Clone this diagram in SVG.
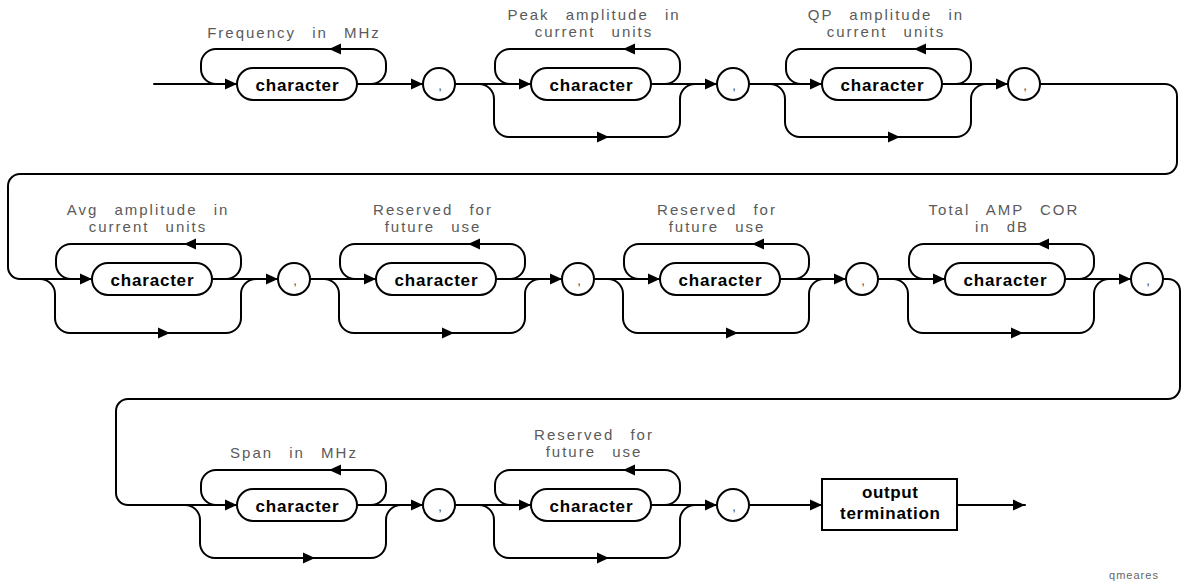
<svg xmlns="http://www.w3.org/2000/svg" xmlns:xlink="http://www.w3.org/1999/xlink" width="1183" height="588" viewBox="0 0 1183 588">
<style>
.ln{fill:none;stroke:#000;stroke-width:2;stroke-linecap:round;stroke-linejoin:round}
.pill{fill:#fff;stroke:#000;stroke-width:2}
.chr{font-family:"Liberation Sans",Arial,sans-serif;font-weight:bold;font-size:17px;fill:#000;text-anchor:middle}
.lbl{font-family:"Liberation Sans",Arial,sans-serif;font-size:15px;fill:#5a5a5a;text-anchor:middle;letter-spacing:2px;word-spacing:10px}
.cm{font-family:"Liberation Sans",Arial,sans-serif;font-size:13px;fill:#444;text-anchor:middle}
.ah{fill:#000}
</style>
<defs>
<path id="ar" class="ah" d="M0,0 L-12,-5.5 L-12,5.5 Z"/>
<path id="al" class="ah" d="M0,0 L12,-5.5 L12,5.5 Z"/>
</defs>
<rect width="1183" height="588" fill="#fff"/>

<g id="connectors">
<!-- row 1 -->
<path class="ln" d="M154,84 H237"/>
<use href="#ar" x="237" y="84"/>
<path class="ln" d="M371,84 A15,15 0 0 0 386,69 V64 A15,15 0 0 0 371,49 H216 A15,15 0 0 0 201,64 V69 A15,15 0 0 0 216,84"/>
<use href="#al" x="329" y="49"/>
<path class="ln" d="M357,84 H423"/>
<use href="#ar" x="423" y="84"/>

<path class="ln" d="M455,84 H531"/>
<use href="#ar" x="531" y="84"/>
<path class="ln" d="M665,84 A15,15 0 0 0 680,69 V64 A15,15 0 0 0 665,49 H510 A15,15 0 0 0 495,64 V69 A15,15 0 0 0 510,84"/>
<use href="#al" x="623" y="49"/>
<path class="ln" d="M479,84 A15,15 0 0 1 494,99 V122 A15,15 0 0 0 509,137 H665 A15,15 0 0 0 680,122 V99 A15,15 0 0 1 695,84"/>
<use href="#ar" x="609" y="137"/>
<path class="ln" d="M651,84 H717"/>
<use href="#ar" x="717" y="84"/>

<path class="ln" d="M749,84 H822"/>
<use href="#ar" x="822" y="84"/>
<path class="ln" d="M956,84 A15,15 0 0 0 971,69 V64 A15,15 0 0 0 956,49 H801 A15,15 0 0 0 786,64 V69 A15,15 0 0 0 801,84"/>
<use href="#al" x="914" y="49"/>
<path class="ln" d="M770,84 A15,15 0 0 1 785,99 V122 A15,15 0 0 0 800,137 H956 A15,15 0 0 0 971,122 V99 A15,15 0 0 1 986,84"/>
<use href="#ar" x="900" y="137"/>
<path class="ln" d="M942,84 H1008"/>
<use href="#ar" x="1008" y="84"/>

<!-- transition 1 -->
<path class="ln" d="M1040,84 H1165 A12,12 0 0 1 1177,96 V162 A12,12 0 0 1 1165,174 H20 A12,12 0 0 0 8,186 V267 A12,12 0 0 0 20,279 H92"/>
<use href="#ar" x="92" y="279"/>

<!-- row 2 -->
<path class="ln" d="M226,279 A15,15 0 0 0 241,264 V259 A15,15 0 0 0 226,244 H71 A15,15 0 0 0 56,259 V264 A15,15 0 0 0 71,279"/>
<use href="#al" x="184" y="244"/>
<path class="ln" d="M40,279 A15,15 0 0 1 55,294 V318 A15,15 0 0 0 70,333 H226 A15,15 0 0 0 241,318 V294 A15,15 0 0 1 256,279"/>
<use href="#ar" x="170" y="333"/>
<path class="ln" d="M212,279 H278"/>
<use href="#ar" x="278" y="279"/>

<path class="ln" d="M310,279 H376"/>
<use href="#ar" x="376" y="279"/>
<path class="ln" d="M510,279 A15,15 0 0 0 525,264 V259 A15,15 0 0 0 510,244 H355 A15,15 0 0 0 340,259 V264 A15,15 0 0 0 355,279"/>
<use href="#al" x="468" y="244"/>
<path class="ln" d="M324,279 A15,15 0 0 1 339,294 V318 A15,15 0 0 0 354,333 H510 A15,15 0 0 0 525,318 V294 A15,15 0 0 1 540,279"/>
<use href="#ar" x="454" y="333"/>
<path class="ln" d="M496,279 H562"/>
<use href="#ar" x="562" y="279"/>

<path class="ln" d="M594,279 H660"/>
<use href="#ar" x="660" y="279"/>
<path class="ln" d="M794,279 A15,15 0 0 0 809,264 V259 A15,15 0 0 0 794,244 H639 A15,15 0 0 0 624,259 V264 A15,15 0 0 0 639,279"/>
<use href="#al" x="752" y="244"/>
<path class="ln" d="M608,279 A15,15 0 0 1 623,294 V318 A15,15 0 0 0 638,333 H794 A15,15 0 0 0 809,318 V294 A15,15 0 0 1 824,279"/>
<use href="#ar" x="738" y="333"/>
<path class="ln" d="M780,279 H846"/>
<use href="#ar" x="846" y="279"/>

<path class="ln" d="M878,279 H945"/>
<use href="#ar" x="945" y="279"/>
<path class="ln" d="M1079,279 A15,15 0 0 0 1094,264 V259 A15,15 0 0 0 1079,244 H924 A15,15 0 0 0 909,259 V264 A15,15 0 0 0 924,279"/>
<use href="#al" x="1037" y="244"/>
<path class="ln" d="M893,279 A15,15 0 0 1 908,294 V318 A15,15 0 0 0 923,333 H1079 A15,15 0 0 0 1094,318 V294 A15,15 0 0 1 1109,279"/>
<use href="#ar" x="1023" y="333"/>
<path class="ln" d="M1065,279 H1131"/>
<use href="#ar" x="1131" y="279"/>

<!-- transition 2 -->
<path class="ln" d="M1163,279 H1168 A12,12 0 0 1 1180,291 V387 A12,12 0 0 1 1168,399 H128 A12,12 0 0 0 116,411 V493 A12,12 0 0 0 128,505 H237"/>
<use href="#ar" x="237" y="505"/>

<!-- row 3 -->
<path class="ln" d="M371,505 A15,15 0 0 0 386,490 V485 A15,15 0 0 0 371,470 H216 A15,15 0 0 0 201,485 V490 A15,15 0 0 0 216,505"/>
<use href="#al" x="329" y="470"/>
<path class="ln" d="M185,505 A15,15 0 0 1 200,520 V543 A15,15 0 0 0 215,558 H371 A15,15 0 0 0 386,543 V520 A15,15 0 0 1 401,505"/>
<use href="#ar" x="315" y="558"/>
<path class="ln" d="M357,505 H423"/>
<use href="#ar" x="423" y="505"/>

<path class="ln" d="M455,505 H531"/>
<use href="#ar" x="531" y="505"/>
<path class="ln" d="M665,505 A15,15 0 0 0 680,490 V485 A15,15 0 0 0 665,470 H510 A15,15 0 0 0 495,485 V490 A15,15 0 0 0 510,505"/>
<use href="#al" x="623" y="470"/>
<path class="ln" d="M479,505 A15,15 0 0 1 494,520 V543 A15,15 0 0 0 509,558 H665 A15,15 0 0 0 680,543 V520 A15,15 0 0 1 695,505"/>
<use href="#ar" x="609" y="558"/>
<path class="ln" d="M651,505 H717"/>
<use href="#ar" x="717" y="505"/>

<path class="ln" d="M749,505 H822"/>
<use href="#ar" x="822" y="505"/>
<path class="ln" d="M957,505 H1025"/>
<use href="#ar" x="1025" y="505"/>
</g>

<!-- row 1 nodes -->
<g id="n1">
<text class="lbl" x="294" y="38">Frequency in MHz</text>
<rect class="pill" x="237" y="68" width="120" height="32" rx="16"/>
<text class="chr" x="297" y="91" textLength="83" lengthAdjust="spacing">character</text>
</g>
<g id="c1"><circle class="pill" cx="439" cy="84" r="16"/><text class="cm" x="440" y="90">,</text></g>

<g id="n2">
<text class="lbl" x="594" y="20">Peak amplitude in</text>
<text class="lbl" x="594" y="37">current units</text>
<rect class="pill" x="531" y="68" width="120" height="32" rx="16"/>
<text class="chr" x="591" y="91" textLength="83" lengthAdjust="spacing">character</text>
</g>
<g id="c2"><circle class="pill" cx="733" cy="84" r="16"/><text class="cm" x="734" y="90">,</text></g>

<g id="n3">
<text class="lbl" x="886" y="20">QP amplitude in</text>
<text class="lbl" x="886" y="37">current units</text>
<rect class="pill" x="822" y="68" width="120" height="32" rx="16"/>
<text class="chr" x="882" y="91" textLength="83" lengthAdjust="spacing">character</text>
</g>
<g id="c3"><circle class="pill" cx="1024" cy="84" r="16"/><text class="cm" x="1025" y="90">,</text></g>

<!-- row 2 nodes -->
<g id="n4">
<text class="lbl" x="148" y="215">Avg amplitude in</text>
<text class="lbl" x="148" y="232">current units</text>
<rect class="pill" x="92" y="263" width="120" height="32" rx="16"/>
<text class="chr" x="152" y="286" textLength="83" lengthAdjust="spacing">character</text>
</g>
<g id="c4"><circle class="pill" cx="294" cy="279" r="16"/><text class="cm" x="295" y="285">,</text></g>

<g id="n5">
<text class="lbl" x="433" y="215">Reserved for</text>
<text class="lbl" x="433" y="232">future use</text>
<rect class="pill" x="376" y="263" width="120" height="32" rx="16"/>
<text class="chr" x="436" y="286" textLength="83" lengthAdjust="spacing">character</text>
</g>
<g id="c5"><circle class="pill" cx="578" cy="279" r="16"/><text class="cm" x="579" y="285">,</text></g>

<g id="n6">
<text class="lbl" x="717" y="215">Reserved for</text>
<text class="lbl" x="717" y="232">future use</text>
<rect class="pill" x="660" y="263" width="120" height="32" rx="16"/>
<text class="chr" x="720" y="286" textLength="83" lengthAdjust="spacing">character</text>
</g>
<g id="c6"><circle class="pill" cx="862" cy="279" r="16"/><text class="cm" x="863" y="285">,</text></g>

<g id="n7">
<text class="lbl" x="1004" y="215">Total AMP COR</text>
<text class="lbl" x="1002" y="232">in dB</text>
<rect class="pill" x="945" y="263" width="120" height="32" rx="16"/>
<text class="chr" x="1005" y="286" textLength="83" lengthAdjust="spacing">character</text>
</g>
<g id="c7"><circle class="pill" cx="1147" cy="279" r="16"/><text class="cm" x="1148" y="285">,</text></g>

<!-- row 3 nodes -->
<g id="n8">
<text class="lbl" x="294" y="458">Span in MHz</text>
<rect class="pill" x="237" y="489" width="120" height="32" rx="16"/>
<text class="chr" x="297" y="512" textLength="83" lengthAdjust="spacing">character</text>
</g>
<g id="c8"><circle class="pill" cx="439" cy="505" r="16"/><text class="cm" x="440" y="511">,</text></g>

<g id="n9">
<text class="lbl" x="594" y="440">Reserved for</text>
<text class="lbl" x="594" y="457">future use</text>
<rect class="pill" x="531" y="489" width="120" height="32" rx="16"/>
<text class="chr" x="591" y="512" textLength="83" lengthAdjust="spacing">character</text>
</g>
<g id="c9"><circle class="pill" cx="733" cy="505" r="16"/><text class="cm" x="734" y="511">,</text></g>

<g id="out">
<rect x="822" y="479" width="135" height="51" fill="#fff" stroke="#000" stroke-width="2"/>
<text class="chr" x="890" y="498" textLength="56" lengthAdjust="spacing">output</text>
<text class="chr" x="890" y="519" textLength="100" lengthAdjust="spacing">termination</text>
</g>

<text x="1134" y="579" style="font-family:'Liberation Sans',Arial,sans-serif;font-size:11px;fill:#666;text-anchor:middle;letter-spacing:1px">qmeares</text>
</svg>
